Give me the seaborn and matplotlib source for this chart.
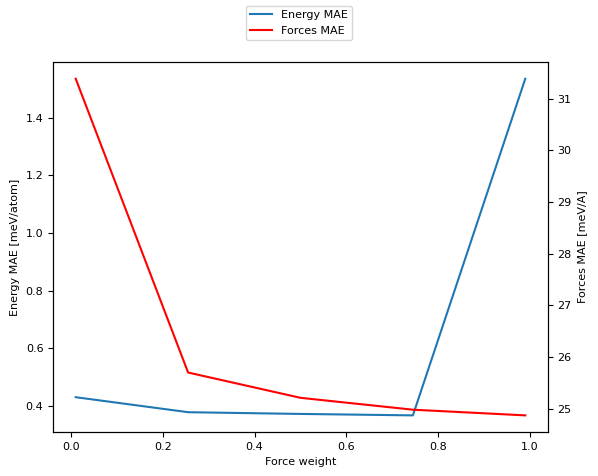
import numpy as np
import pandas as pd
import seaborn as sns
import matplotlib.pyplot as plt

# Werte
force_weight = [0.01, 0.255, 0.5, 0.745, 0.99]
energy_mae = [0.431, 0.379, 0.373, 0.368, 1.535]
forces_mae = [31.39, 25.70, 25.21, 24.98, 24.87]

df = pd.DataFrame({
    'force_weight': force_weight,
    'energy_mae': energy_mae,
    'forces_mae': forces_mae,
})

plt.rcParams['font.size'] = 8

fig, ax = plt.subplots(figsize=(5.98, 4.76), dpi=100)
ax2 = ax.twinx()

sns.lineplot(data=df, x='force_weight', y='energy_mae', ax=ax, color='tab:blue', label='Energy MAE', legend=False)
sns.lineplot(data=df, x='force_weight', y='forces_mae', ax=ax2, color='red', label='Forces MAE', legend=False)

ax.set_xlabel('Force weight')
ax.set_ylabel('Energy MAE [meV/atom]')
ax2.set_ylabel('Forces MAE [meV/A]')

h1, l1 = ax.get_legend_handles_labels()
h2, l2 = ax2.get_legend_handles_labels()
fig.legend(h1 + h2, l1 + l2, loc='upper center', bbox_to_anchor=(0.5, 1.0))

fig.subplots_adjust(left=0.089, right=0.916, bottom=0.092, top=0.87)
fig.savefig('out.png', dpi=100)
